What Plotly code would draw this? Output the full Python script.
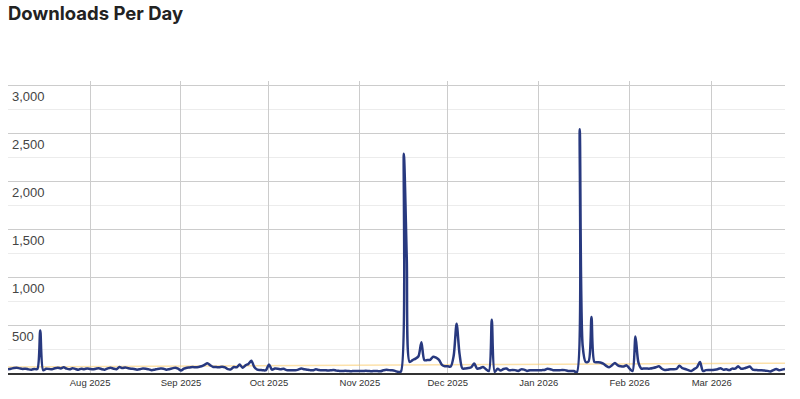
import numpy as np
import pandas as pd
import plotly.graph_objects as go

start_date = "2025-07-04"
end_date = "2026-03-26"

jul = [40, 45, 52, 55, 48, 42, 45, 38, 35, 42, 40, 445, 30, 45, 42, 38, 50, 55, 48, 60, 45, 38, 50, 42, 35, 45, 40, 48]
aug = [42, 38, 45, 50, 40, 35, 48, 55, 45, 40, 62, 52, 58, 50, 45, 42, 35, 40, 48, 45, 38, 30, 35, 42, 46, 45, 35, 40, 48, 55, 45]
sep = [25, 45, 55, 58, 62, 60, 63, 70, 85, 102, 80, 63, 62, 60, 65, 58, 40, 38, 62, 60, 88, 55, 80, 95, 128, 63, 35, 32, 28, 30]
oct_ = [90, 35, 46, 45, 40, 44, 30, 28, 30, 28, 35, 46, 40, 35, 30, 28, 38, 32, 28, 30, 26, 28, 32, 25, 22, 20, 24, 21, 18, 22, 20]
nov = [22, 20, 24, 21, 18, 22, 20, 18, 28, 35, 30, 28, 22, 12, 15, 2290, 1200, 115, 135, 150, 175, 320, 135, 135, 137, 170, 160, 137, 85, 70]
dec = [70, 68, 180, 515, 200, 46, 48, 52, 60, 98, 46, 50, 63, 40, 20, 555, 12, 45, 25, 42, 46, 28, 32, 30, 22, 38, 35, 22, 28, 30, 28]
jan = [28, 30, 32, 45, 40, 28, 30, 28, 32, 30, 22, 22, 20, 8, 2545, 280, 115, 120, 585, 115, 112, 110, 98, 75, 60, 80, 104, 80, 70, 68, 80]
feb = [45, 20, 380, 110, 46, 48, 46, 46, 52, 60, 70, 45, 31, 35, 40, 38, 42, 77, 50, 42, 30, 21, 40, 60, 115, 21, 30, 32]
mar = [32, 35, 40, 50, 35, 38, 30, 46, 45, 70, 45, 48, 58, 68, 35, 32, 28, 28, 25, 22, 15, 30, 42, 28, 35, 42]

downloads = jul + aug + sep + oct_ + nov + dec + jan + feb + mar
dates = pd.date_range(start_date, end_date, freq="D")
assert len(dates) == len(downloads), (len(dates), len(downloads))

y_tick_vals = [0, 500, 1000, 1500, 2000, 2500, 3000]
y_tick_text = ["", "500", "1,000", "1,500", "2,000", "2,500", "3,000"]
y_minor_vals = [250, 750, 1250, 1750, 2250, 2750]
x_tick_vals = ["2025-08-01", "2025-09-01", "2025-10-01", "2025-11-01", "2025-12-01",
               "2026-01-01", "2026-02-01", "2026-03-01"]
x_tick_text = ["Aug 2025", "Sep 2025", "Oct 2025", "Nov 2025", "Dec 2025",
               "Jan 2026", "Feb 2026", "Mar 2026"]

# linear trend line computed from the series
t = np.arange(len(downloads))
slope, intercept = np.polyfit(t, np.array(downloads, dtype=float), 1)
trend = slope * t + intercept

fig = go.Figure()
fig.add_trace(go.Scatter(
    x=dates, y=trend, mode="lines",
    line=dict(color="rgba(250,200,100,0.55)", width=1.5),
    hoverinfo="skip", showlegend=False,
))
fig.add_trace(go.Scatter(
    x=dates, y=downloads, mode="lines",
    line=dict(color="#28397f", width=2.5, shape="spline", smoothing=0.8),
    showlegend=False,
))

fig.update_layout(
    width=800, height=399,
    margin=dict(l=8, r=15, t=81, b=26),
    paper_bgcolor="white", plot_bgcolor="white",
    title=dict(
        text="Downloads Per Day",
        x=8 / 800, xanchor="left", xref="container",
        y=1 - 14 / 399, yanchor="middle", yref="container",
        font=dict(family="Inter", size=18.5, color="#222", weight=700),
    ),
    xaxis=dict(
        range=[start_date, end_date],
        tickmode="array", tickvals=x_tick_vals, ticktext=x_tick_text,
        showgrid=True, gridcolor="#cccccc", gridwidth=1,
        showline=True, linecolor="#333333", linewidth=1.5,
        ticks="", tickfont=dict(family="Liberation Sans", size=9.5, color="#333"),
        zeroline=False,
    ),
    yaxis=dict(
        range=[0, 3050],
        tickmode="array", tickvals=y_tick_vals, ticktext=y_tick_text,
        showgrid=True, gridcolor="#cccccc", gridwidth=1,
        minor=dict(tickmode="array", tickvals=y_minor_vals, showgrid=True,
                   gridcolor="#ececec", gridwidth=1),
        ticklabelposition="inside", ticklabelshift=11, ticklabelstandoff=1,
        ticks="", showline=False, zeroline=False,
        tickfont=dict(family="Liberation Sans", size=13, color="#444"),
    ),
)

fig.write_html("out.html")
